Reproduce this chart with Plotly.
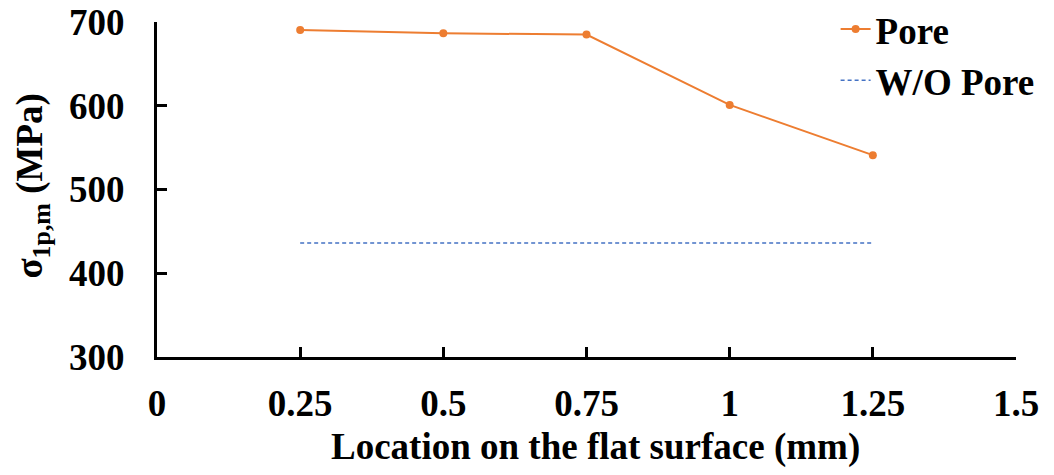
import plotly.graph_objects as go

# Sampling locations along the flat surface (mm) and peak principal stress (MPa)
location_mm = [0.25, 0.5, 0.75, 1.0, 1.25]
stress_pore = [690.5, 686.5, 685, 601, 541]
stress_no_pore = [436, 436, 436, 436, 436]

x_ticks = [0, 0.25, 0.5, 0.75, 1, 1.25, 1.5]
x_tick_text = ["0", "0.25", "0.5", "0.75", "1", "1.25", "1.5"]
y_ticks = [300, 400, 500, 600, 700]

FONT = "Liberation Serif"
ORANGE = "#ED7D31"
BLUE = "#4472C4"

fig = go.Figure()
fig.add_trace(go.Scatter(
    x=location_mm, y=stress_pore, name="<b>Pore</b>",
    mode="lines+markers",
    line=dict(color=ORANGE, width=2),
    marker=dict(color=ORANGE, size=8),
))
fig.add_trace(go.Scatter(
    x=location_mm, y=stress_no_pore, name="<b>W/O Pore</b>",
    mode="lines",
    line=dict(color=BLUE, width=1.5, dash="4px,3px"),
))

axis_common = dict(
    showgrid=False, zeroline=False, showline=True,
    linecolor="black", linewidth=3,
    ticks="inside", ticklen=10, tickwidth=3, tickcolor="black",
    tickfont=dict(family=FONT, size=37, color="black", weight="bold"),
    automargin=False,
)

fig.update_layout(
    width=1054, height=475,
    margin=dict(l=157, r=38, t=22, b=118, autoexpand=False),
    paper_bgcolor="white", plot_bgcolor="white",
    font=dict(family=FONT, color="black"),
    xaxis=dict(range=[0, 1.5], tickvals=x_ticks, ticktext=x_tick_text,
               ticklabelstandoff=12, **axis_common),
    yaxis=dict(range=[300, 700], tickvals=y_ticks,
               ticklabelstandoff=22, **axis_common),
    legend=dict(
        x=0.79, y=1.07, xanchor="left", yanchor="top",
        font=dict(family=FONT, size=37, color="black"),
        bgcolor="rgba(0,0,0,0)", tracegroupgap=0, itemwidth=30,
    ),
    showlegend=True,
)

# Axis titles
fig.add_annotation(
    text="<b>Location on the flat surface (mm)</b>",
    xref="paper", yref="paper", x=0.51, y=-0.268,
    xanchor="center", yanchor="middle", showarrow=False,
    font=dict(family=FONT, size=37, color="black"),
)
fig.add_annotation(
    text="<b>σ<sub>1p,m</sub> (MPa)</b>",
    xref="paper", yref="paper", x=-0.145, y=0.51,
    xanchor="center", yanchor="middle", textangle=-90, showarrow=False,
    font=dict(family=FONT, size=37, color="black"),
)

fig.write_html("out.html")
